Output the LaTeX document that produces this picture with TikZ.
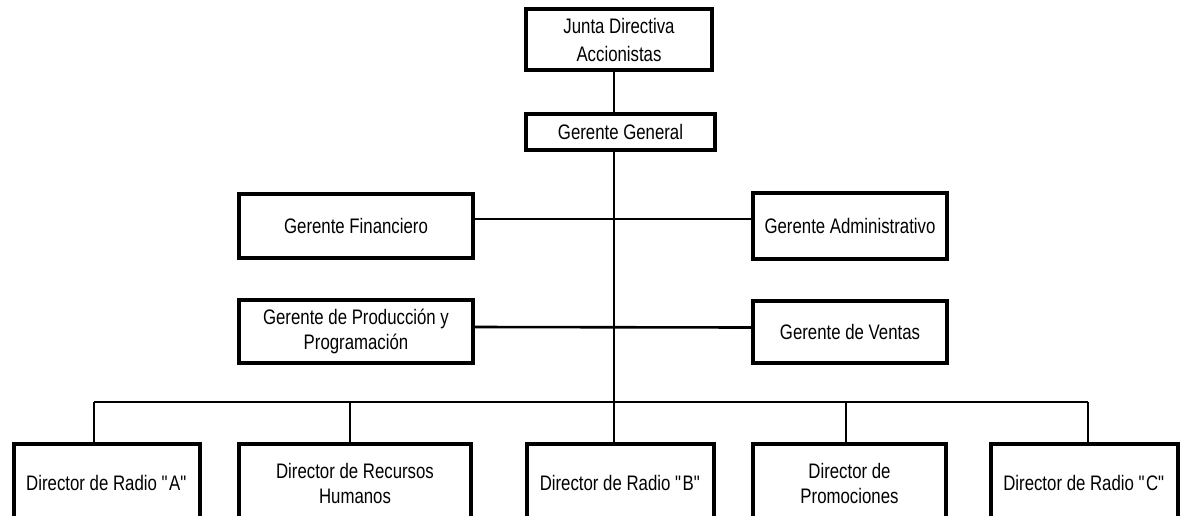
\documentclass[tikz,border=0pt]{standalone}
\usepackage{fontspec}
\setmainfont[FakeStretch=0.8]{Liberation Sans}
\tikzset{
  caja/.style={draw, line width=3.6pt, align=center, inner sep=0pt,
    font=\fontsize{21}{25}\selectfont},
  enlace/.style={line width=2.6pt}
}
\begin{document}
\begin{tikzpicture}[x=1pt,y=-1pt]
    \useasboundingbox (0,0) rectangle (1185,515);
    \clip (0,0) rectangle (1185,515);
    % cargos
    \node[caja,minimum width=186pt,minimum height=61pt] (junta) at (619,39.5) {Junta Directiva\\[3pt]Accionistas};
    \node[caja,minimum width=189pt,minimum height=36pt] (gg) at (620.5,132) {Gerente General};
    \node[caja,minimum width=234pt,minimum height=64pt] (fin) at (356,226) {Gerente Financiero};
    \node[caja,minimum width=194pt,minimum height=66pt] (adm) at (850,226) {Gerente Administrativo};
    \node[caja,minimum width=234pt,minimum height=63pt] (prod) at (356,331.5) {Gerente de Producci\'on y\\Programaci\'on};
    \node[caja,minimum width=194pt,minimum height=62pt] (ven) at (850,332) {Gerente de Ventas};
    \node[caja,minimum width=186pt,minimum height=78pt] (dirA) at (107,483) {Director de Radio \textquotedbl A\textquotedbl};
    \node[caja,minimum width=232pt,minimum height=78pt] (dirRH) at (355,483) {Director de Recursos\\Humanos};
    \node[caja,minimum width=187pt,minimum height=78pt] (dirB) at (620.5,483) {Director de Radio \textquotedbl B\textquotedbl};
    \node[caja,minimum width=193pt,minimum height=78pt] (dirP) at (849.5,483) {Director de\\Promociones};
    \node[caja,minimum width=187pt,minimum height=78pt] (dirC) at (1084.5,483) {Director de Radio \textquotedbl C\textquotedbl};
    % lineas
    \coordinate (eje) at (614,0);
    \coordinate (bus) at (0,402);
    \draw[enlace] (eje |- junta.south) -- (eje |- gg.north);
    \draw[enlace] (eje |- gg.south) -- (eje |- bus);
    \draw[enlace] ([yshift=7pt]fin.east) -- ([yshift=7pt]adm.west);
    \draw[enlace] ([yshift=4.5pt]prod.east) -- ([yshift=4.5pt]ven.west);
    \foreach \n/\x in {dirA/94, dirRH/350, dirB/614, dirP/846, dirC/1088}
        \coordinate (b-\n) at (\x,402);
    \draw[enlace] (b-dirA) -- (b-dirC);
    \foreach \n in {dirA, dirRH, dirB, dirP, dirC}
        \draw[enlace] (b-\n) -- (b-\n |- \n.north);
\end{tikzpicture}
\end{document}
